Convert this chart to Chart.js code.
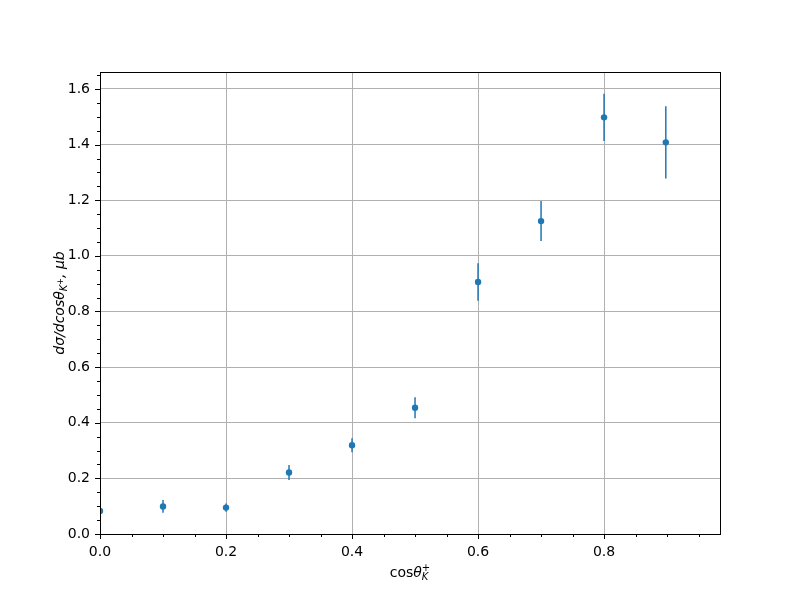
<!DOCTYPE html>
<html>
<head>
    <title>dsigma / dcos theta</title>
    <meta charset="utf-8">
    <style>
        body { margin: 0; padding: 0; background: #fff; }
        #xsec-chart { display: block; }
    </style>
    <script src="https://cdn.jsdelivr.net/npm/chart.js"></script>
</head>
<body>
    <canvas id="xsec-chart" width="800" height="600"></canvas>

    <script>
        // values
        const cosTheta = [0.0, 0.1, 0.2, 0.3, 0.4, 0.5, 0.6, 0.7, 0.8, 0.898];
        const dSigma   = [0.083, 0.099, 0.095, 0.221, 0.319, 0.454, 0.906, 1.125, 1.498, 1.408];
        const dSigmaErr = [0.01, 0.023, 0.015, 0.027, 0.025, 0.038, 0.067, 0.072, 0.085, 0.13];

        const xTicks = [0.0, 0.2, 0.4, 0.6, 0.8];
        const xMinorTicks = [0.05, 0.1, 0.15, 0.25, 0.3, 0.35, 0.45, 0.5, 0.55, 0.65, 0.7, 0.75, 0.85, 0.9, 0.95];
        const yTicks = [0.0, 0.2, 0.4, 0.6, 0.8, 1.0, 1.2, 1.4, 1.6];
        const yMinorTicks = [0.05, 0.1, 0.15, 0.25, 0.3, 0.35, 0.45, 0.5, 0.55, 0.65, 0.7, 0.75,
                             0.85, 0.9, 0.95, 1.05, 1.1, 1.15, 1.25, 1.3, 1.35, 1.45, 1.5, 1.55, 1.65];

        const blue = '#1f77b4';
        const fontName = "'DejaVu Sans'";
        Chart.defaults.font.family = "'DejaVu Sans', sans-serif";
        Chart.defaults.font.size = 14;
        Chart.defaults.color = '#000';

        // draws a row of text pieces (sub/superscripts), centred on cx, baseline at 0
        function drawRich(ctx, parts, cx, y) {
            let x = 0, w = 0, placed = [];
            parts.forEach(p => {
                ctx.font = (p.it ? 'italic ' : '') + p.sz + 'px ' + fontName;
                const pw = ctx.measureText(p.t).width;
                const startX = p.stack ? placed[placed.length - 1].x : x;
                placed.push({ p: p, x: startX, w: pw });
                x = Math.max(x, startX + pw);
                w = x;
            });
            placed.forEach(q => {
                ctx.font = (q.p.it ? 'italic ' : '') + q.p.sz + 'px ' + fontName;
                ctx.fillText(q.p.t, cx - w / 2 + q.x, y + (q.p.dy || 0));
            });
        }

        const errorBars = {
            id: 'errorBars',
            beforeDatasetsDraw(chart) {
                const ctx = chart.ctx, xs = chart.scales.x, ys = chart.scales.y, a = chart.chartArea;
                ctx.save();
                ctx.beginPath();
                ctx.rect(a.left, a.top, a.right - a.left, a.bottom - a.top);
                ctx.clip();
                ctx.strokeStyle = blue;
                ctx.lineWidth = 1.5;
                cosTheta.forEach((c, i) => {
                    const px = xs.getPixelForValue(c);
                    ctx.beginPath();
                    ctx.moveTo(px, ys.getPixelForValue(dSigma[i] - dSigmaErr[i]));
                    ctx.lineTo(px, ys.getPixelForValue(dSigma[i] + dSigmaErr[i]));
                    ctx.stroke();
                });
                ctx.restore();
            }
        };

        const frame = {
            id: 'frame',
            afterDraw(chart) {
                const ctx = chart.ctx, xs = chart.scales.x, ys = chart.scales.y, a = chart.chartArea;
                ctx.save();
                ctx.strokeStyle = '#000';
                ctx.lineWidth = 1;
                ctx.strokeRect(Math.round(a.left) + 0.5, Math.round(a.top) + 0.5,
                               Math.round(a.right - a.left), Math.round(a.bottom - a.top));

                const tick = (px, py, len, vertical) => {
                    ctx.beginPath();
                    if (vertical) { ctx.moveTo(Math.round(px) + 0.5, py); ctx.lineTo(Math.round(px) + 0.5, py + len); }
                    else { ctx.moveTo(px, Math.round(py) + 0.5); ctx.lineTo(px - len, Math.round(py) + 0.5); }
                    ctx.stroke();
                };
                xTicks.forEach(v => tick(xs.getPixelForValue(v), a.bottom, 5, true));
                xMinorTicks.forEach(v => tick(xs.getPixelForValue(v), a.bottom, 3, true));
                yTicks.forEach(v => tick(a.left, ys.getPixelForValue(v), 5, false));
                yMinorTicks.forEach(v => tick(a.left, ys.getPixelForValue(v), 3, false));

                // axis titles
                ctx.fillStyle = '#000';
                ctx.textBaseline = 'alphabetic';
                ctx.textAlign = 'left';
                drawRich(ctx, [
                    { t: 'cos', sz: 14 },
                    { t: 'θ', sz: 14, it: true },
                    { t: 'K', sz: 10, it: true, dy: 3 },
                    { t: '+', sz: 10, dy: -6, stack: true }
                ], (a.left + a.right) / 2, 577);

                ctx.translate(64, (a.top + a.bottom) / 2);
                ctx.rotate(-Math.PI / 2);
                drawRich(ctx, [
                    { t: 'dσ/dcosθ', sz: 14, it: true },
                    { t: 'K', sz: 10, it: true, dy: 3 },
                    { t: '+', sz: 8, dy: -1 },
                    { t: ', μb', sz: 14, it: true }
                ], 0, 0);
                ctx.restore();
            }
        };

        new Chart(document.getElementById('xsec-chart'), {
            type: 'scatter',
            data: {
                datasets: [{
                    data: cosTheta.map((c, i) => ({ x: c, y: dSigma[i] })),
                    backgroundColor: blue,
                    borderWidth: 0,
                    pointRadius: 3.2,
                    clip: 0
                }]
            },
            options: {
                responsive: false,
                animation: false,
                layout: { padding: { left: 0, top: 72, right: 80, bottom: 0 } },
                plugins: { legend: { display: false }, tooltip: { enabled: false } },
                scales: {
                    x: {
                        type: 'linear', min: 0, max: 0.984,
                        afterFit(scale) { scale.height = 66; },
                        afterBuildTicks(scale) { scale.ticks = xTicks.map(v => ({ value: v })); },
                        grid: { color: '#b0b0b0', lineWidth: 1, drawTicks: false },
                        border: { display: false },
                        ticks: { padding: 10, maxRotation: 0, callback: v => v.toFixed(1) }
                    },
                    y: {
                        type: 'linear', min: 0, max: 1.661,
                        afterFit(scale) { scale.width = 100; },
                        afterBuildTicks(scale) { scale.ticks = yTicks.map(v => ({ value: v })); },
                        grid: { color: '#b0b0b0', lineWidth: 1, drawTicks: false },
                        border: { display: false },
                        ticks: { padding: 10, callback: v => v.toFixed(1) }
                    }
                }
            },
            plugins: [errorBars, frame]
        });
    </script>
</body>
</html>
